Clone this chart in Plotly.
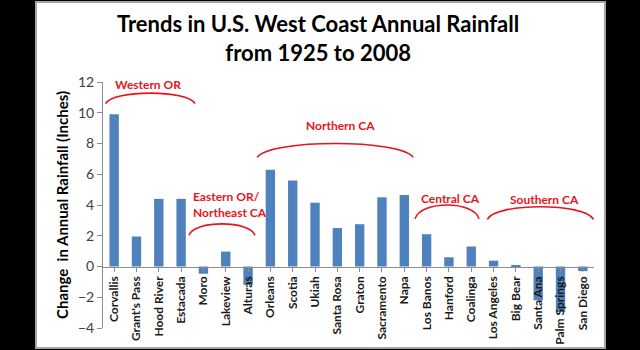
import plotly.graph_objects as go

stations = ["Corvallis", "Grant's Pass", "Hood River", "Estacada", "Moro", "Lakeview",
            "Alturas", "Orleans", "Scotia", "Ukiah", "Santa Rosa", "Graton", "Sacramento",
            "Napa", "Los Banos", "Hanford", "Coalinga", "Los Angeles", "Big Bear",
            "Santa Ana", "Palm Springs", "San Diego"]
change_in = [9.9, 1.95, 4.4, 4.4, -0.47, 0.97, -1.19, 6.3, 5.6, 4.15, 2.5, 2.75, 4.5,
             4.65, 2.1, 0.6, 1.3, 0.38, 0.1, -2.2, -2.95, -0.3]
y_ticks = [-4, -2, 0, 2, 4, 6, 8, 10, 12]

# region brackets: (label, x_start, x_end, y_base, y_peak, label_x, label_y)
regions = [
    ("Western OR", -0.38, 3.62, 10.6, 11.28, 1.52, 11.85),
    ("Northern CA", 6.41, 13.40, 7.1, 8.0, 10.12, 9.19),
    ("Central CA", 13.48, 16.35, 3.1, 4.0, 15.05, 4.44),
    ("Southern CA", 16.72, 21.47, 3.07, 3.89, 19.26, 4.37),
]
eastern = ("Eastern OR/<br>Northeast CA", 3.35, 6.31, 2.03, 2.77, 3.45, 4.05)

FONT = "Lato"
RED = "#e8141c"

fig = go.Figure()
fig.add_trace(go.Bar(x=list(range(len(stations))), y=change_in,
                     marker=dict(color="#4F81BD", line=dict(width=0)), width=0.42))

shapes = [dict(type="rect", xref="paper", yref="paper",
               x0=-0.1365, x1=1.0224, y0=-0.0813, y1=1.325,
               fillcolor="white", line=dict(color="#a6a6a6", width=2), layer="below")]

annotations = []

def arc(x0, x1, yb, yp):
    w = x1 - x0
    k = (yp - yb) / 0.75
    return (f"M {x0},{yb} C {x0 + 0.08 * w},{yb + k} {x1 - 0.08 * w},{yb + k} {x1},{yb}")

for (lab, xs, xe, yb, yp, lx, ly) in regions + [eastern]:
    shapes.append(dict(type="path", xref="x", yref="y", path=arc(xs, xe, yb, yp),
                       line=dict(color=RED, width=1.6)))
for (lab, xs, xe, yb, yp, lx, ly) in regions:
    annotations.append(dict(x=lx, y=ly, xref="x", yref="y", text=f"<b>{lab}</b>",
                            showarrow=False, font=dict(family=FONT, size=12, color=RED)))
lab, xs, xe, yb, yp, lx, ly = eastern
annotations.append(dict(x=lx, y=ly, xref="x", yref="y", text=f"<b>{lab}</b>",
                        showarrow=False, xanchor="left", align="left",
                        font=dict(family=FONT, size=12, color=RED)))

annotations.append(dict(x=-0.106, y=0.5, xref="paper", yref="paper",
                        text="<b>Change  in Annual Rainfall (Inches)</b>", textangle=-90,
                        showarrow=False, font=dict(family=FONT, size=15, color="black")))

annotations.append(dict(x=0.438, y=1.3008, xref="paper", yref="paper",
                        xanchor="center", yanchor="top",
                        text="<b>Trends in U.S. West Coast Annual Rainfall<br>from 1925 to 2008</b>",
                        showarrow=False, font=dict(family=FONT, size=22, color="black")))

fig.update_layout(
    width=640, height=350,
    margin=dict(l=103, r=46, t=82, b=22, autoexpand=False),
    paper_bgcolor="black", plot_bgcolor="rgba(0,0,0,0)",
    showlegend=False, bargap=0.58,
    shapes=shapes, annotations=annotations,
    xaxis=dict(range=[-0.5, len(stations) - 0.5], tickvals=list(range(len(stations))),
               ticktext=[f"<b>{s}</b>" for s in stations], tickangle=-90,
               anchor="free", position=0.25, showgrid=False, zeroline=False,
               showline=True, linecolor="#8c8c8c", linewidth=1,
               ticks="outside", ticklen=4, tickcolor="#8c8c8c",
               tickfont=dict(family=FONT, size=12, color="#1a1a1a"), automargin=False),
    yaxis=dict(range=[-4, 12], tickvals=y_ticks, showgrid=False, zeroline=False,
               showline=True, linecolor="#8c8c8c", linewidth=1,
               ticks="outside", ticklen=5, tickcolor="#8c8c8c",
               tickfont=dict(family=FONT, size=14, color="#404040"), automargin=False),
)

fig.write_html("out.html")
